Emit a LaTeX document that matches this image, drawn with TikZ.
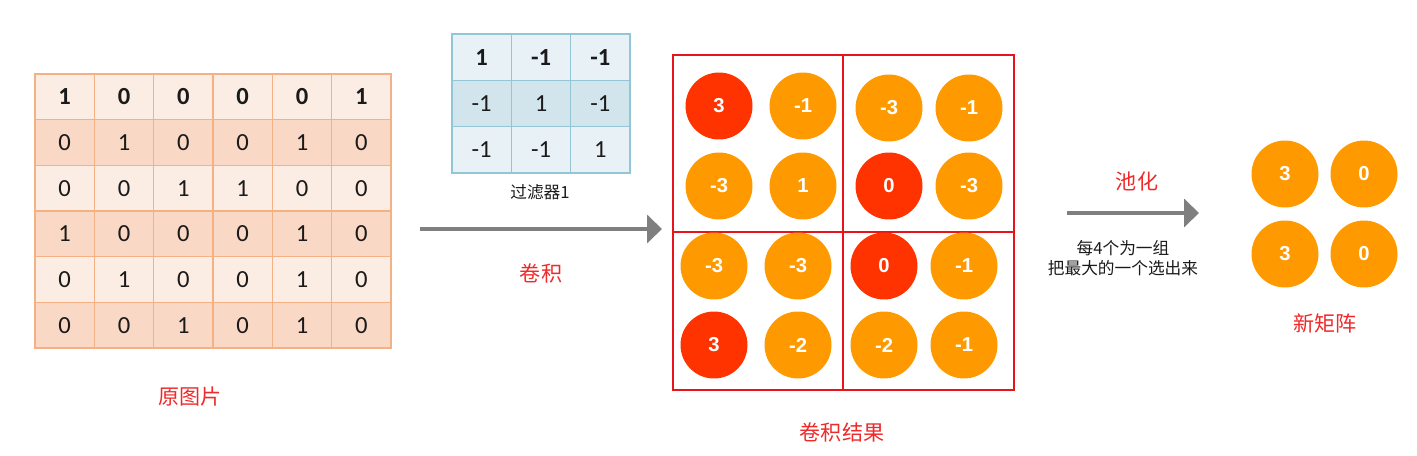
\documentclass[tikz,border=0pt]{standalone}
\usepackage{fontspec}
\setmainfont{Carlito}
\newfontfamily\cjk{Noto Sans CJK SC}
\newfontfamily\arialfont{Liberation Sans}
\usetikzlibrary{arrows.meta,positioning}
\definecolor{ink}{HTML}{1A1A1A}
\definecolor{gridline}{HTML}{F4B183}
\definecolor{gridlight}{HTML}{FCEDE4}
\definecolor{griddark}{HTML}{F9D8C5}
\definecolor{filtline}{HTML}{92C5D6}
\definecolor{filtlight}{HTML}{E8F1F5}
\definecolor{filtdark}{HTML}{D2E5EC}
\definecolor{dotorange}{HTML}{FF9900}
\definecolor{dotred}{HTML}{FF3300}
\definecolor{boxred}{HTML}{E8141C}
\definecolor{lblred}{HTML}{EE2A2A}
\definecolor{arrgray}{HTML}{7F7F7F}

\begin{document}
\begin{tikzpicture}[x=0.02cm,y=-0.02cm,
  cell/.style={draw=gridline,line width=0.6pt,minimum width=1.1867cm,minimum height=0.9133cm,
    inner sep=0pt,text=ink,font=\fontsize{14}{15}\selectfont},
  fcell/.style={cell,draw=filtline,minimum height=0.9267cm},
  dot/.style={circle,fill=dotorange,minimum size=1.34cm,inner sep=0pt,text=white,
    font=\arialfont\bfseries\fontsize{11.5}{13}\selectfont},
  lbl/.style={text=lblred,font=\cjk\fontsize{12}{14}\selectfont},
  note/.style={text=ink,font=\cjk\fontsize{9.5}{11.3}\selectfont,align=center},
  flow/.style={arrgray,line width=2.8pt,-{Triangle[length=0.3cm,width=0.56cm]}}]
  \useasboundingbox (0,0) rectangle (1417,456);
  % original picture
  \foreach \row [count=\r] in {{1,0,0,0,0,1},{0,1,0,0,1,0},{0,0,1,1,0,0},{1,0,0,0,1,0},{0,1,0,0,1,0},{0,0,1,0,1,0}}
    \foreach \v [count=\c] in \row {
      \pgfmathsetmacro\shade{isodd(\r) ? "gridlight" : "griddark"}
      \node[cell,fill=\shade] (m-\r-\c) at ({35+59.33*(\c-0.5)},{74+45.67*(\r-0.5)}) {\ifnum\r=1 \bfseries\fi\v};
    }
  \node[lbl] (orig-lbl) at (190,397) {原图片};
  % filter 1
  \foreach \row [count=\r] in {{1,-1,-1},{-1,1,-1},{-1,-1,1}}
    \foreach \v [count=\c] in \row {
      \pgfmathsetmacro\shade{\r==2 ? "filtdark" : "filtlight"}
      \node[fcell,fill=\shade] (f-\r-\c) at ({452+59.33*(\c-0.5)},{34+46.33*(\r-0.5)}) {\ifnum\r=1 \bfseries\fi\v};
    }
  \node[note] (filt-lbl) at (540,192) {过滤器1};
  % convolution
  \coordinate (conv-start) at (420,229);
  \coordinate (conv-end) at (662,229);
  \draw[flow] (conv-start) -- (conv-end);
  \node[lbl] (conv-lbl) at (541,273) {卷积};
  % convolution result
  \draw[boxred,line width=0.7pt] (673,55) rectangle (1014,390);
  \draw[boxred,line width=1.2pt] (843,55) -- (843,390);
  \draw[boxred,line width=1.2pt] (673,232) -- (1014,232);
  \foreach \x/\y/\v/\col [count=\i] in {
      719/106/3/dotred, 803/106/-1/dotorange, 889/108/-3/dotorange, 969/108/-1/dotorange,
      719/186/-3/dotorange, 803/186/1/dotorange, 889/186/0/dotred, 969/186/-3/dotorange,
      714/266/-3/dotorange, 798/266/-3/dotorange, 884/266/0/dotred, 964/266/-1/dotorange,
      714/345/3/dotred, 798/345/-2/dotorange, 884/345/-2/dotorange, 964/345/-1/dotorange}
    \node[dot,fill=\col] (r\i) at (\x,\y) {\v};
  \node[lbl] (res-lbl) at (842,432) {卷积结果};
  % pooling
  \coordinate (pool-start) at (1067,213);
  \coordinate (pool-end) at (1199,213);
  \draw[flow] (pool-start) -- (pool-end);
  \node[lbl] (pool-lbl) at (1137,181) {池化};
  \node[note] (pool-note) at (1123,258) {每4个为一组\\把最大的一个选出来};
  % new matrix
  \foreach \x/\y/\v [count=\i] in {1285/174/3, 1364/174/0, 1285/254/3, 1364/254/0}
    \node[dot] (n\i) at (\x,\y) {\v};
  \node[lbl] (new-lbl) at (1325,323) {新矩阵};
\end{tikzpicture}
\end{document}
